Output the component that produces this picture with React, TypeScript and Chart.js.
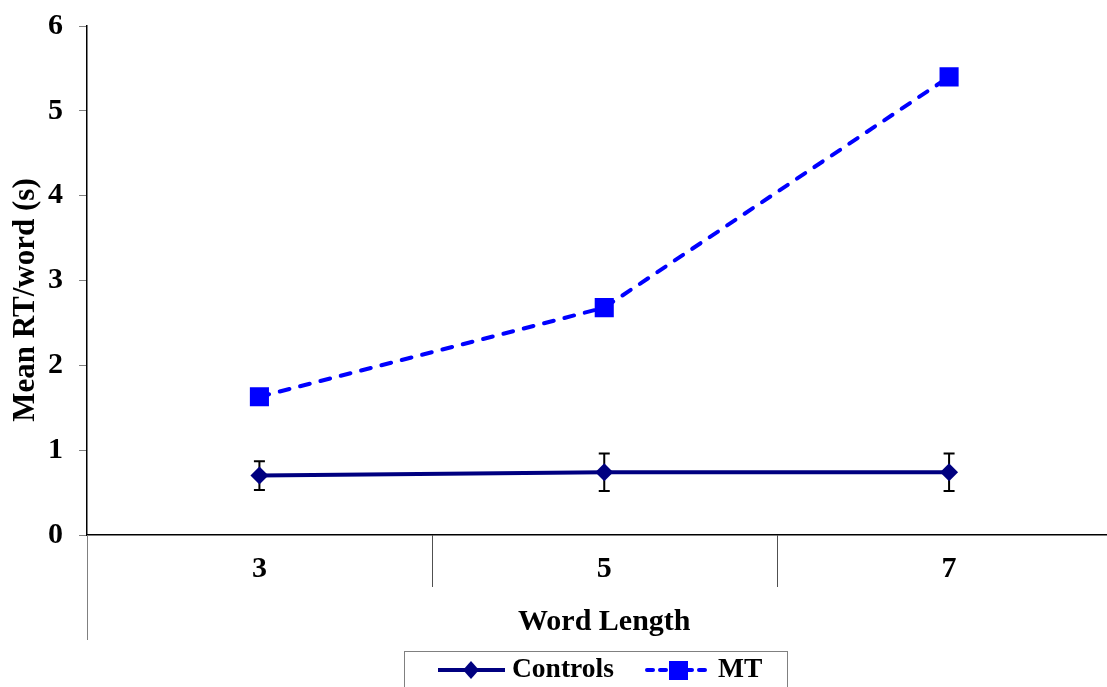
import React, { useEffect, useRef } from "react";
import { Chart, registerables } from "chart.js";

Chart.register(...registerables);

const categories = ["3", "5", "7"];
const controlsMean = [0.7, 0.74, 0.74];
const controlsErr = [0.17, 0.22, 0.22];
const mtMean = [1.63, 2.68, 5.4];
const yMin = 0;
const yMax = 6;
const yStep = 1;
const xTitle = "Word Length";
const yTitle = "Mean RT/word (s)";
const seriesNames = ["Controls", "MT"];

const FONT = "'Liberation Serif', 'Times New Roman', serif";
const NAVY = "#000080";
const BLUE = "#0000FF";
const CANVAS_W = 1135;

const extrasPlugin = {
  id: "extras",
  beforeDatasetsDraw(chart: any) {
    const ctx = chart.ctx;
    const x = chart.scales.x;
    const y = chart.scales.y;
    ctx.save();
    ctx.strokeStyle = "#000";
    ctx.lineWidth = 2;
    controlsMean.forEach((m, i) => {
      const px = x.getPixelForValue(i);
      const top = y.getPixelForValue(m + controlsErr[i]);
      const bot = y.getPixelForValue(m - controlsErr[i]);
      ctx.beginPath();
      ctx.moveTo(px, top);
      ctx.lineTo(px, bot);
      ctx.moveTo(px - 5.5, top);
      ctx.lineTo(px + 5.5, top);
      ctx.moveTo(px - 5.5, bot);
      ctx.lineTo(px + 5.5, bot);
      ctx.stroke();
    });
    ctx.restore();
  },
  afterDraw(chart: any) {
    const ctx = chart.ctx;
    const area = chart.chartArea;
    const x = chart.scales.x;
    ctx.save();
    // left axis extension below x axis
    ctx.strokeStyle = "#808080";
    ctx.lineWidth = 1;
    ctx.beginPath();
    ctx.moveTo(area.left + 0.5, area.bottom);
    ctx.lineTo(area.left + 0.5, area.bottom + 105);
    ctx.stroke();
    // category separators
    ctx.strokeStyle = "#505050";
    for (let i = 0; i < categories.length - 1; i++) {
      const bx = Math.round((x.getPixelForValue(i) + x.getPixelForValue(i + 1)) / 2) + 0.5;
      ctx.beginPath();
      ctx.moveTo(bx, area.bottom);
      ctx.lineTo(bx, area.bottom + 52);
      ctx.stroke();
    }
    // y title
    ctx.fillStyle = "#000";
    ctx.font = `bold 31px ${FONT}`;
    ctx.textAlign = "center";
    ctx.textBaseline = "middle";
    ctx.translate(26, 300);
    ctx.rotate(-Math.PI / 2);
    ctx.fillText(yTitle, 0, 0);
    ctx.restore();

    // legend
    ctx.save();
    ctx.strokeStyle = "#808080";
    ctx.lineWidth = 1;
    ctx.strokeRect(404.5, 651.5, 383, 60);
    const ly = 670;
    // Controls
    ctx.strokeStyle = NAVY;
    ctx.lineWidth = 4;
    ctx.beginPath();
    ctx.moveTo(438, ly);
    ctx.lineTo(505, ly);
    ctx.stroke();
    ctx.fillStyle = NAVY;
    ctx.beginPath();
    ctx.moveTo(471, ly - 9);
    ctx.lineTo(479, ly);
    ctx.lineTo(471, ly + 9);
    ctx.lineTo(463, ly);
    ctx.closePath();
    ctx.fill();
    // MT
    ctx.strokeStyle = BLUE;
    ctx.lineCap = "round";
    ctx.setLineDash([6, 7]);
    ctx.beginPath();
    ctx.moveTo(647, ly);
    ctx.lineTo(711, ly);
    ctx.stroke();
    ctx.setLineDash([]);
    ctx.fillStyle = BLUE;
    ctx.fillRect(669, ly - 9, 19, 19);
    ctx.fillStyle = "#000";
    ctx.font = `bold 27.5px ${FONT}`;
    ctx.textAlign = "left";
    ctx.textBaseline = "middle";
    ctx.fillText(seriesNames[0], 512, ly);
    ctx.fillText(seriesNames[1], 718, ly);
    ctx.restore();
  },
};

export default function App() {
  const ref = useRef<HTMLCanvasElement | null>(null);
  useEffect(() => {
    if (!ref.current) return;
    const chart = new Chart(ref.current, {
      type: "line",
      data: {
        labels: categories,
        datasets: [
          {
            label: seriesNames[0],
            data: controlsMean,
            borderColor: NAVY,
            backgroundColor: NAVY,
            borderWidth: 4,
            pointStyle: "rectRot",
            pointRadius: 9,
            pointBorderWidth: 0,
            tension: 0,
          },
          {
            label: seriesNames[1],
            data: mtMean,
            borderColor: BLUE,
            backgroundColor: BLUE,
            borderWidth: 4,
            borderDash: [10, 11],
            borderCapStyle: "round",
            pointStyle: "rect",
            pointRadius: 13.5,
            pointBorderWidth: 0,
            tension: 0,
          },
        ],
      },
      options: {
        animation: false,
        responsive: false,
        devicePixelRatio: 1,
        layout: { padding: { top: 26, left: 0, right: 0, bottom: 0 } },
        plugins: {
          legend: { display: false },
          tooltip: { enabled: false },
        },
        scales: {
          x: {
            offset: true,
            grid: { display: false, drawTicks: false, offset: true },
            border: { display: true, color: "#000", width: 1.5 },
            ticks: {
              color: "#000",
              font: { family: FONT, size: 30, weight: "bold" },
              padding: 16,
              maxRotation: 0,
            },
            title: {
              display: true,
              text: xTitle,
              color: "#000",
              font: { family: FONT, size: 30, weight: "bold" },
              padding: { top: 0, bottom: 47 },
            },
            afterFit: (s: any) => {
              s.height = 152;
            },
          },
          y: {
            min: yMin,
            max: yMax,
            grid: {
              drawOnChartArea: false,
              drawTicks: true,
              tickLength: 8,
              color: "#808080",
            },
            border: { display: true, color: "#000", width: 1.5 },
            ticks: {
              stepSize: yStep,
              color: "#000",
              font: { family: FONT, size: 30, weight: "bold" },
              padding: 16,
            },
            afterFit: (s: any) => {
              s.width = 87;
              s.paddingTop = 0;
              s.paddingBottom = 0;
            },
          },
        },
      },
      plugins: [extrasPlugin],
    });
    return () => chart.destroy();
  }, []);
  return (
    <div
      style={{
        position: "absolute",
        left: 0,
        top: 0,
        width: 1107,
        height: 687,
        overflow: "hidden",
        background: "#fff",
      }}
    >
      <canvas
        ref={ref}
        width={CANVAS_W}
        height={687}
        style={{ width: CANVAS_W, height: 687, display: "block" }}
      />
    </div>
  );
}
